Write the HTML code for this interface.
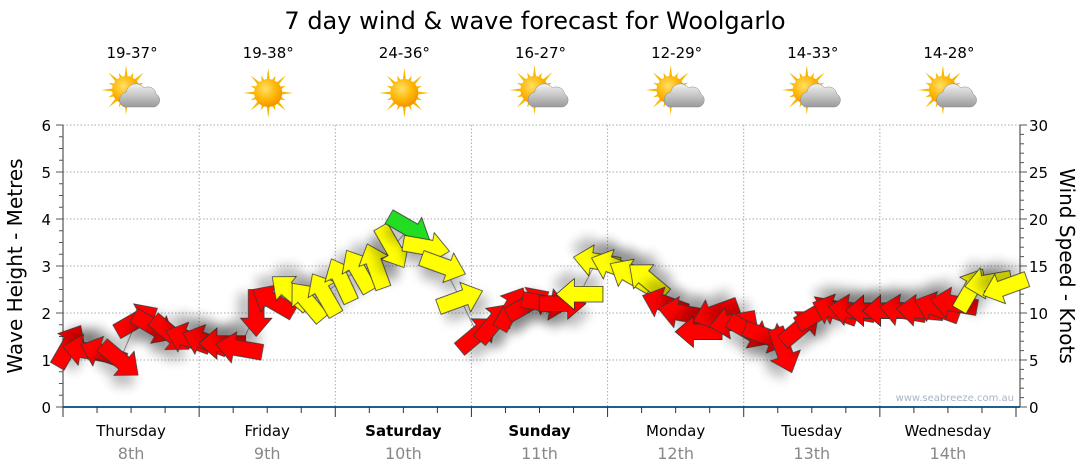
<!DOCTYPE html>
<html><head><meta charset="utf-8"><style>
body{margin:0;background:#fff;}
svg{display:block;font-family:"DejaVu Sans","Liberation Sans",sans-serif;}
</style></head><body>
<svg id="chart" width="1080" height="475" viewBox="0 0 1080 475">
<defs>
<radialGradient id="sunG" cx="40%" cy="35%" r="70%"><stop offset="0" stop-color="#ffe066"/><stop offset="0.6" stop-color="#ffb300"/><stop offset="1" stop-color="#f08c00"/></radialGradient>
<linearGradient id="cloudG" x1="0" y1="0" x2="0" y2="1"><stop offset="0" stop-color="#f2f2f2"/><stop offset="1" stop-color="#9a9a9a"/></linearGradient>
<filter id="sh" x="-50%" y="-50%" width="200%" height="200%"><feGaussianBlur in="SourceAlpha" stdDeviation="4"/><feOffset dx="3" dy="8"/><feComponentTransfer><feFuncA type="linear" slope="0.25"/></feComponentTransfer><feMerge><feMergeNode/><feMergeNode in="SourceGraphic"/></feMerge></filter>
</defs>
<text x="535" y="29" font-size="24" text-anchor="middle" fill="#000">7 day wind &amp; wave forecast for Woolgarlo</text>
<g id="axes"></g>
<g id="icons"></g>
<g id="marks"></g>
<text transform="translate(22,266) rotate(-90)" font-size="20" text-anchor="middle">Wave Height - Metres</text>
<text transform="translate(1060,266) rotate(90)" font-size="20" text-anchor="middle">Wind Speed - Knots</text>
<text x="1014" y="401" font-size="10" text-anchor="end" fill="#a8b4c4">www.seabreeze.com.au</text>
</svg>
<script>
const days=["Thursday","Friday","Saturday","Sunday","Monday","Tuesday","Wednesday"];
const dates=["8th","9th","10th","11th","12th","13th","14th"];
const boldDays=[false,false,true,true,false,false,false];
const temps=["19-37°","19-38°","24-36°","16-27°","12-29°","14-33°","14-28°"];
const cloudy=[true,false,false,true,true,true,true];
const leftTicks=[0,1,2,3,4,5,6];
const rightTicks=[0,5,10,15,20,25,30];
// 3-hourly wave height (m)
const waveHeight=[1.3,1.2,1.15,1.0,1.85,1.7,1.55,1.45,
 1.4,1.35,1.25,2.0,2.25,2.45,2.25,2.4,
 2.7,2.9,3.0,3.4,3.8,3.4,3.0,2.3,
 1.55,1.8,2.1,2.2,2.2,2.2,2.4,3.1,
 3.0,2.8,2.7,2.2,2.0,1.6,2.0,1.8,
 1.6,1.5,1.2,1.7,2.0,2.05,2.05,2.05,
 2.05,2.05,2.05,2.1,2.2,2.5,2.65,2.55];
// wind direction as screen angle arrow points (deg, 0=right, clockwise)
const windAngle=[-60,190,200,40,-30,30,40,200,
 200,180,190,90,-150,-140,-130,-120,
 -115,-120,-110,60,30,10,20,-20,
 -40,-50,-60,-30,10,0,180,190,
 200,210,220,200,190,180,160,170,
 30,20,70,-40,-30,200,190,180,
 180,190,185,200,190,-60,170,160];
// wind speed (knots)
const windSpeed=[11,11,11,11,11,11,11,11,
 11,11,11,11,11,13,12,13,
 13,14,14,14,16,14,14,13,
 11,11,11,11,11,11,13,14,
 14,14,13,11,11,11,11,11,
 11,11,11,11,11,11,11,11,
 11,11,11,11,11,13,13,13];

const NS="http://www.w3.org/2000/svg";
const X0=63,X1=1016,DAYW=(X1-X0)/7,YB=407,YT=125;
const xAt=i=>X0+6+i*DAYW/8;
const yM=m=>YB-(YB-YT)*m/6;
const yK=k=>YB-(YB-YT)*k/30;
function el(tag,attrs,parent){const e=document.createElementNS(NS,tag);for(const k in attrs)e.setAttribute(k,attrs[k]);parent.appendChild(e);return e;}
const axes=document.getElementById('axes');
leftTicks.forEach(t=>{if(t>0){const g=el('line',{x1:X0,x2:1020,y1:yM(t),y2:yM(t),stroke:'#aaa','stroke-dasharray':'1.5,2','stroke-width':1},axes);

}});
for(let d=1;d<7;d++){const g=el('line',{x1:X0+d*DAYW,x2:X0+d*DAYW,y1:YT,y2:YB,stroke:'#aaa','stroke-dasharray':'1.5,2'},axes);

}
let a=el('line',{x1:X0,x2:X0,y1:YT,y2:YB,stroke:'#333'},axes);


a=el('line',{x1:1020,x2:1020,y1:YT,y2:YB,stroke:'#333'},axes);


for(let m=0;m<=24;m++){const y=yM(m/4);el('line',{x1:X0-(m%4?4:7),x2:X0,y1:y,y2:y,stroke:'#555'},axes);}
for(let k=0;k<=30;k++){const y=yK(k);el('line',{x1:1020,x2:1020+(k%5?4:7),y1:y,y2:y,stroke:'#555'},axes);}
leftTicks.forEach(t=>{const tx=el('text',{x:X0-12,y:yM(t)+6,'font-size':15,'text-anchor':'end'},axes);tx.textContent=t;

});
rightTicks.forEach(t=>{const tx=el('text',{x:1029,y:yK(t)+6,'font-size':15},axes);tx.textContent=t;

});
a=el('line',{x1:X0,x2:1020,y1:YB,y2:YB,stroke:'#1f5f8b','stroke-width':2},axes);


for(let q=0;q<=28;q++){const x=X0+q*DAYW/4;el('line',{x1:x,x2:x,y1:YB,y2:YB+(q%4?6:10),stroke:'#333'},axes);}
days.forEach((d,i)=>{const cx=X0+(i+0.5)*DAYW;
const t=el('text',{x:cx,y:436,'font-size':15,'text-anchor':'middle','font-weight':boldDays[i]?'bold':'normal'},axes);t.textContent=d;


const t2=el('text',{x:cx,y:459,'font-size':16,'text-anchor':'middle',fill:'#888'},axes);t2.textContent=dates[i];

});
const icons=document.getElementById('icons');
temps.forEach((tp,i)=>{const cx=X0+(i+0.5)*DAYW+1;
const t=el('text',{x:cx,y:58,'font-size':15,'text-anchor':'middle'},icons);t.textContent=tp;


const g=el('g',{},icons);


const sx=cloudy[i]?cx-6:cx, sy=cloudy[i]?90:93;
for(let r=0;r<16;r++){const ang=r*Math.PI/8;const L=r%2?19:25;
const p1=[sx+Math.cos(ang-0.12)*13,sy+Math.sin(ang-0.12)*13],p2=[sx+Math.cos(ang)*L,sy+Math.sin(ang)*L],p3=[sx+Math.cos(ang+0.12)*13,sy+Math.sin(ang+0.12)*13];
el('polygon',{points:[p1,p2,p3].map(p=>p.join(',')).join(' '),fill:'#f5b800'},g);}
el('circle',{cx:sx,cy:sy,r:14,fill:'url(#sunG)'},g);
if(cloudy[i]){el('path',{d:`M${cx-8},${sy+17} a8,8 0 0 1 2,-15 a10,10 0 0 1 18,-4 a8,8 0 0 1 12,6 a7,7 0 0 1 -2,13 z`,fill:'url(#cloudG)',stroke:'#888','stroke-width':0.5},g);}
});
const marks=document.getElementById('marks');
const pl=el('polyline',{points:waveHeight.map((h,i)=>xAt(i)+','+yM(h)).join(' '),fill:'none',stroke:'#999','stroke-width':1},marks);


function col(s){return s>=16?'#22dd22':(s>=12?'#ffff00':'#ff0000');}
const arrow="M-18,-6 L4,-6 L4,-12 L18,0 L4,12 L4,6 L-18,6 Z";
waveHeight.forEach((h,i)=>{
const p=el('path',{d:arrow,transform:`translate(${xAt(i)},${yM(h)}) rotate(${windAngle[i]}) scale(1.3)`,fill:col(windSpeed[i]),stroke:'#333','stroke-width':0.6,filter:'url(#sh)'},marks);

});
</script>
</body></html>
